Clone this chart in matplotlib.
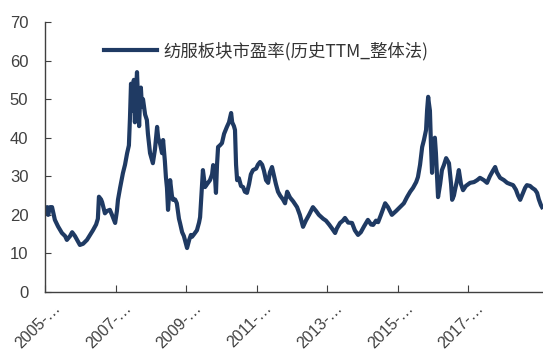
import matplotlib
matplotlib.use("Agg")
import matplotlib.pyplot as plt
import matplotlib.transforms as mtransforms

# ---- data (decimal year, PE value) ----
years = [
    2005.00, 2005.06, 2005.09, 2005.14, 2005.20, 2005.28, 2005.37, 2005.48, 2005.57, 2005.62,
    2005.71, 2005.77, 2005.85, 2005.91, 2005.99, 2006.08, 2006.19, 2006.28, 2006.36, 2006.45,
    2006.50, 2006.53, 2006.59, 2006.62, 2006.67, 2006.70, 2006.76, 2006.84, 2006.90, 2006.99,
    2007.04, 2007.07, 2007.13, 2007.21, 2007.27, 2007.33, 2007.38, 2007.41, 2007.44, 2007.47,
    2007.50, 2007.52, 2007.55, 2007.58, 2007.61, 2007.64, 2007.67, 2007.70, 2007.72, 2007.75,
    2007.78, 2007.84, 2007.89, 2007.92, 2007.98, 2008.04, 2008.06, 2008.12, 2008.18, 2008.21,
    2008.26, 2008.32, 2008.35, 2008.40, 2008.43, 2008.46, 2008.49, 2008.55, 2008.60, 2008.63,
    2008.69, 2008.74, 2008.80, 2008.83, 2008.89, 2008.94, 2008.97, 2009.03, 2009.09, 2009.14,
    2009.17, 2009.23, 2009.31, 2009.37, 2009.40, 2009.43, 2009.48, 2009.54, 2009.60, 2009.68,
    2009.74, 2009.77, 2009.82, 2009.85, 2009.88, 2009.91, 2009.96, 2010.02, 2010.08, 2010.16,
    2010.22, 2010.28, 2010.31, 2010.36, 2010.39, 2010.42, 2010.45, 2010.50, 2010.56, 2010.62,
    2010.67, 2010.73, 2010.79, 2010.84, 2010.90, 2010.99, 2011.04, 2011.10, 2011.16, 2011.21,
    2011.27, 2011.33, 2011.38, 2011.44, 2011.50, 2011.55, 2011.61, 2011.67, 2011.75, 2011.81,
    2011.87, 2011.95, 2012.04, 2012.15, 2012.23, 2012.32, 2012.40, 2012.49, 2012.60, 2012.69,
    2012.77, 2012.89, 2012.97, 2013.06, 2013.14, 2013.23, 2013.28, 2013.37, 2013.45, 2013.51,
    2013.60, 2013.71, 2013.79, 2013.88, 2013.96, 2014.05, 2014.16, 2014.25, 2014.31, 2014.39,
    2014.45, 2014.53, 2014.65, 2014.73, 2014.84, 2014.96, 2015.07, 2015.18, 2015.27, 2015.36,
    2015.44, 2015.53, 2015.58, 2015.64, 2015.70, 2015.75, 2015.81, 2015.84, 2015.87, 2015.89,
    2015.92, 2015.95, 2015.98, 2016.01, 2016.06, 2016.09, 2016.15, 2016.21, 2016.26, 2016.32,
    2016.38, 2016.46, 2016.52, 2016.55, 2016.60, 2016.63, 2016.69, 2016.74, 2016.80, 2016.86,
    2016.94, 2017.06, 2017.17, 2017.26, 2017.34, 2017.45, 2017.54, 2017.62, 2017.71, 2017.77,
    2017.82, 2017.91, 2018.02, 2018.11, 2018.19, 2018.28, 2018.36, 2018.42, 2018.48, 2018.53,
    2018.62, 2018.67, 2018.76, 2018.82, 2018.90, 2018.96, 2019.01, 2019.07, 2019.10,
]
pe = [
    21.5, 22.0, 20.0, 22.0, 22.0, 18.7, 17.0, 15.3, 14.5, 13.5,
    14.5, 15.5, 14.5, 13.5, 12.2, 12.5, 13.5, 14.8, 16.0, 17.5,
    19.0, 24.7, 24.0, 23.3, 21.5, 20.4, 21.0, 21.3, 20.0, 17.9,
    21.0, 23.9, 27.0, 30.8, 33.0, 36.0, 38.0, 45.0, 54.0, 50.0,
    47.0, 55.0, 44.0, 52.0, 57.0, 50.0, 43.0, 51.0, 53.0, 48.0,
    50.0, 46.0, 44.6, 41.0, 36.0, 34.0, 33.4, 37.0, 42.8, 40.0,
    38.6, 36.0, 39.4, 34.0, 29.8, 27.0, 21.3, 29.0, 25.0, 23.9,
    24.0, 23.0, 19.0, 17.9, 15.5, 14.5, 13.5, 11.4, 13.5, 14.8,
    14.3, 15.0, 16.0, 18.0, 19.4, 24.0, 31.6, 27.2, 28.0, 29.0,
    30.5, 32.9, 30.0, 25.7, 33.0, 37.6, 38.0, 38.6, 41.0, 42.8,
    44.0, 46.4, 44.0, 43.0, 42.0, 33.0, 29.0, 29.5, 27.5, 27.2,
    26.0, 25.7, 28.0, 30.5, 31.6, 32.0, 33.0, 33.7, 33.0, 31.5,
    29.0, 28.3, 31.0, 32.4, 30.0, 28.0, 26.0, 25.0, 24.0, 23.0,
    26.0, 24.5, 23.5, 22.0, 20.0, 16.9, 18.5, 20.0, 22.0, 21.0,
    20.0, 19.0, 18.5, 17.5, 16.5, 15.3, 16.5, 17.9, 18.5, 19.2,
    18.0, 17.9, 16.0, 14.8, 15.5, 17.0, 18.7, 17.5, 17.4, 18.5,
    18.1, 20.0, 23.0, 22.0, 20.0, 21.0, 22.0, 23.0, 24.6, 26.0,
    27.0, 28.5, 29.8, 33.0, 37.6, 39.4, 42.0, 47.2, 50.6, 49.0,
    47.0, 38.0, 30.9, 39.4, 40.0, 36.0, 24.6, 28.0, 31.6, 33.0,
    34.7, 33.4, 28.0, 23.9, 25.0, 26.4, 29.0, 31.6, 28.0, 26.4,
    27.5, 28.3, 28.5, 29.0, 29.6, 29.0, 28.3, 30.0, 31.5, 32.4,
    31.0, 29.6, 29.0, 28.3, 28.0, 27.7, 26.5, 25.0, 23.9, 25.0,
    27.0, 27.7, 27.5, 27.0, 26.5, 25.7, 24.0, 22.5, 22.0,
]
tick_years = [2005, 2007, 2009, 2011, 2013, 2015, 2017]
tick_labels = ["2005-\u2026", "2007-\u2026", "2009-\u2026", "2011-\u2026",
               "2013-\u2026", "2015-\u2026", "2017-\u2026"]
y_ticks = [0, 10, 20, 30, 40, 50, 60, 70]
series_name = "纺服板块市盈率(历史TTM_整体法)"

# ---- figure ----
plt.rcParams['font.family'] = ['Liberation Sans', 'DejaVu Sans']
fig = plt.figure(figsize=(5.43, 3.50), dpi=100)
ax = fig.add_axes([45/543, 1 - 292/350, 1 - 45/543, (292 - 22)/350])

line_color = '#1F3A63'
ax.plot(years, pe, color=line_color, lw=3.0, solid_joinstyle='round',
        label=series_name)

ax.set_xlim(2005.0, 2005 + (543 - 45) / 35.25)
ax.set_ylim(0, 70)
ax.set_yticks(y_ticks)
ax.set_xticks(tick_years)
ax.set_xticklabels([])

# rotated x labels, placed with an offset like the reference
label_trans = ax.get_xaxis_transform() + mtransforms.ScaledTranslation(
    8/100, -8/100, fig.dpi_scale_trans)
for yr, txt in zip(tick_years, tick_labels):
    ax.text(yr, 0, txt, transform=label_trans, rotation=45,
            rotation_mode='anchor', ha='right', va='top',
            fontsize=11.5, color='#404040', clip_on=False)

ax.tick_params(axis='y', direction='in', length=4, labelsize=12,
               labelcolor='#404040', color='#404040', pad=12)
ax.tick_params(axis='x', direction='in', length=5, color='#404040', pad=2)

for side in ['top', 'right']:
    ax.spines[side].set_visible(False)
for side in ['left', 'bottom']:
    ax.spines[side].set_color('#404040')
    ax.spines[side].set_linewidth(1.0)

leg = ax.legend(loc='upper left', bbox_to_anchor=(88/543, 1 - 26/350),
                bbox_transform=fig.transFigure, frameon=False,
                handlelength=3.1, handletextpad=0.35,
                prop={'family': ['Noto Sans CJK SC', 'DejaVu Sans'], 'size': 12.5})
for t in leg.get_texts():
    t.set_color('#333333')

fig.savefig('out.png', dpi=100)
